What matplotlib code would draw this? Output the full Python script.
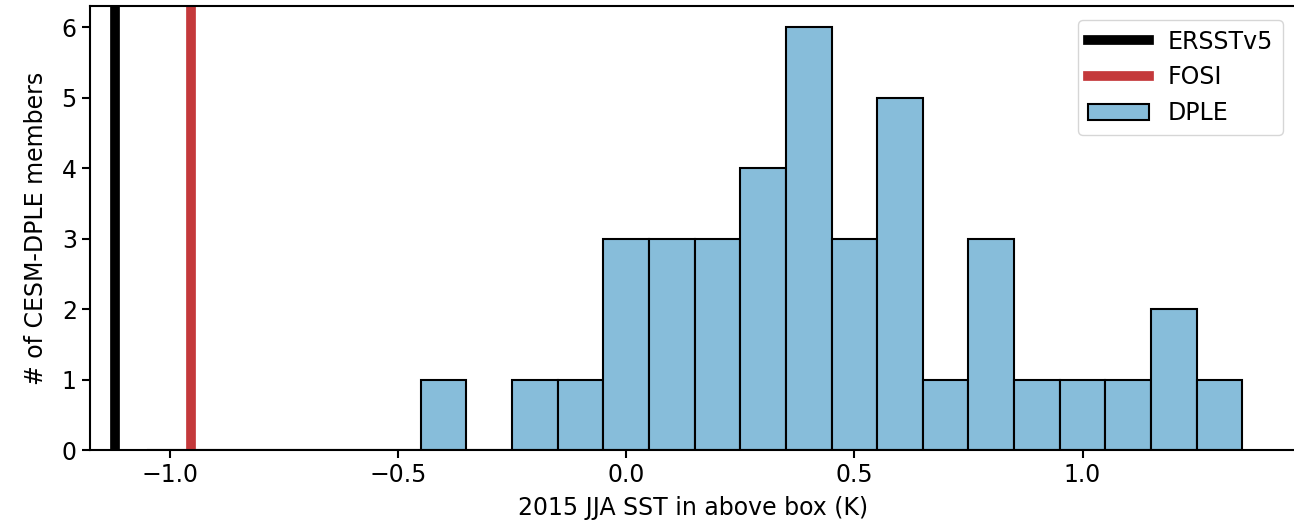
"""
Histogram of 2015 JJA SST in the box for the CESM-DPLE members,
with the observed (ERSSTv5) and FOSI values as vertical lines.
"""

import matplotlib
matplotlib.use('Agg')
import matplotlib.pyplot as plt
import numpy as np

# bin centres (K) and member counts
bin_centers = [-1.0, -0.9, -0.8, -0.7, -0.6, -0.5, -0.4, -0.3, -0.2, -0.1,
               0.0, 0.1, 0.2, 0.3, 0.4, 0.5, 0.6, 0.7, 0.8, 0.9,
               1.0, 1.1, 1.2, 1.3]
member_counts = [0, 0, 0, 0, 0, 0, 1, 0, 1, 1,
                 3, 3, 3, 4, 6, 3, 5, 1, 3, 1,
                 1, 1, 2, 1]
bin_width = 0.1

# reference values (K)
ersst_value = -1.12
fosi_value = -0.953

plt.rcParams['font.family'] = 'DejaVu Sans'
plt.rcParams['font.size'] = 17

fig = plt.figure(figsize=(12.94, 5.27), dpi=100)
ax = fig.add_axes([90 / 1294, 1 - 450 / 527, (1297 - 90) / 1294, (450 - 6) / 527])

# observation lines
ax.axvline(ersst_value, color='black', linewidth=7, label='ERSSTv5')
ax.axvline(fosi_value, color='#c4393b', linewidth=7, label='FOSI')

# ensemble histogram
ax.bar(bin_centers, member_counts, width=bin_width, align='center',
       color='#87bdda', edgecolor='black', linewidth=1.5, label='DPLE')

ax.set_xlim(-1.175, 1.47)
ax.set_ylim(0, 6.3)
ax.set_xticks([-1.0, -0.5, 0.0, 0.5, 1.0])
ax.set_yticks(np.arange(0, 7, 1))
ax.set_xlabel('2015 JJA SST in above box (K)', labelpad=6)
ax.set_ylabel('# of CESM-DPLE members', labelpad=10)

for spine in ax.spines.values():
    spine.set_linewidth(1.5)
ax.tick_params(width=1.5, length=6)

ax.legend(loc='upper right', handlelength=2.6, borderaxespad=0.6)

fig.savefig('out.png', dpi=100)
